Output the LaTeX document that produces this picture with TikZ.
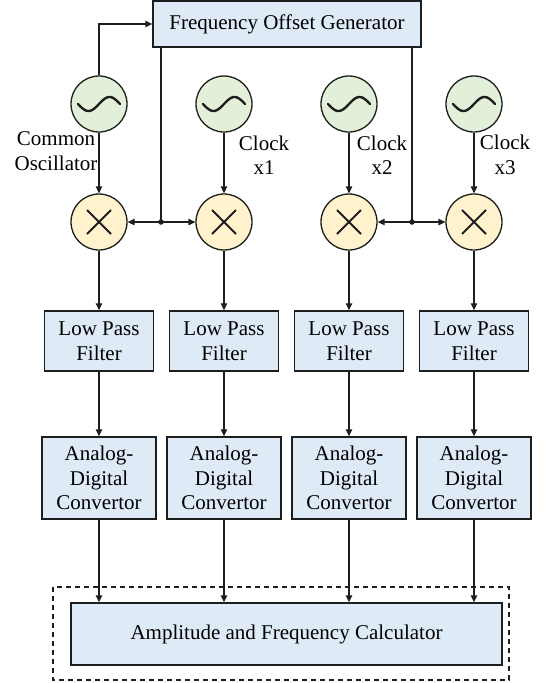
\documentclass[tikz,border=0pt]{standalone}
\usepackage{fontspec}
\setmainfont{Liberation Serif}
\usetikzlibrary{arrows.meta,calc}
\definecolor{boxblue}{RGB}{222,235,247}
\definecolor{oscgreen}{RGB}{226,240,217}
\definecolor{mixyellow}{RGB}{255,242,204}
\definecolor{edge}{RGB}{30,30,30}
\begin{document}
\begin{tikzpicture}[x=1pt,y=-1pt,
  every node/.style={font=\fontsize{21}{24.5}\selectfont},
  blockbox/.style={draw=edge,line width=1.4pt,fill=boxblue,inner sep=0pt,align=center},
  osc/.style={circle,draw=edge,line width=1.3pt,fill=oscgreen,minimum size=56pt,inner sep=0pt},
  mixer/.style={circle,draw=edge,line width=1.3pt,fill=mixyellow,minimum size=56pt,inner sep=0pt},
  conn/.style={draw=edge,line width=1.3pt},
  arr/.style={conn,-{Triangle[length=7pt,width=6.5pt]}},
  dot/.style={circle,fill=edge,inner sep=0pt,minimum size=5.5pt},
  lbl/.style={align=center,inner sep=0pt}
]
\useasboundingbox (0,0) rectangle (544,683);

% top generator
\node[blockbox,minimum width=268pt,minimum height=46pt] (fog) at (287,24) {Frequency Offset Generator};

% oscillators
\foreach \i/\x in {1/99,2/224,3/349,4/474}{
  \node[osc] (osc\i) at (\x,104) {};
  \draw[edge,line width=2.4pt,line cap=round] plot[variable=\t,domain=-21:21,samples=50,smooth] ({\x+\t},{104-7*sin(8.57*\t)});
}

% mixers
\foreach \i/\x in {1/99,2/224,3/349,4/474}{
  \node[mixer] (mix\i) at (\x,222) {};
  \draw[edge,line width=1.8pt] ($(mix\i)+(-12,-12)$) -- ($(mix\i)+(12,12)$);
  \draw[edge,line width=1.8pt] ($(mix\i)+(-12,12)$) -- ($(mix\i)+(12,-12)$);
}

% low pass filters and ADCs
\foreach \i/\x in {1/99,2/224,3/349,4/474}{
  \node[blockbox,minimum width=109pt,minimum height=60pt] (lpf\i) at (\x,341) {Low Pass\\Filter};
  \node[blockbox,minimum width=114pt,minimum height=82pt] (adc\i) at (\x,478) {Analog-\\Digital\\Convertor};
}

% calculator and dashed frame
\node[blockbox,minimum width=431pt,minimum height=62pt] (calc) at (286.5,634) {Amplitude and Frequency Calculator};
\draw[draw=edge,line width=1.2pt,dash pattern=on 5pt off 4pt] (53,587) rectangle (509,680);

% labels
\node[lbl] (lcommon) at (56,151) {Common\\Oscillator};
\node[lbl] (lclk1) at (264,155) {Clock\\x1};
\node[lbl] (lclk2) at (382,155) {Clock\\x2};
\node[lbl] (lclk3) at (505,155) {Clock\\x3};

% junctions
\coordinate (j1) at (161,222);
\coordinate (j2) at (412,222);
\node[dot] (d1) at (j1) {};
\node[dot] (d2) at (j2) {};

% connectors
\draw[arr] (osc1.north) |- (fog.west);
\draw[conn] (fog.south -| j1) -- (j1);
\draw[conn] (fog.south -| j2) -- (j2);
\draw[arr] (j1) -- (mix1.east);
\draw[arr] (j1) -- (mix2.west);
\draw[arr] (j2) -- (mix3.east);
\draw[arr] (j2) -- (mix4.west);
\foreach \i in {1,2,3,4}{
  \draw[arr] (osc\i.south) -- (mix\i.north);
  \draw[arr] (mix\i.south) -- (lpf\i.north);
  \draw[arr] (lpf\i.south) -- (adc\i.north);
  \draw[arr] (adc\i.south) -- (adc\i.south |- calc.north);
}
\end{tikzpicture}
\end{document}
